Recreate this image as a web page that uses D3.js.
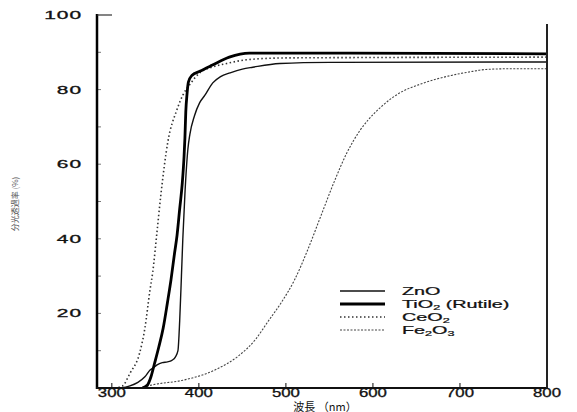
<!DOCTYPE html>
<html><head><meta charset="utf-8">
<script src="https://cdn.jsdelivr.net/npm/d3@7"></script>
<style>html,body{margin:0;padding:0;background:#fff;}svg{display:block;}</style>
</head><body>
<svg id="c" width="577" height="412"></svg>
<script>
// ---- data (wavelength nm, transmittance %) ----
const xTicks = [300, 400, 500, 600, 700, 800];
const yTicks = [20, 40, 60, 80, 100];
const seriesNames = ["ZnO", "TiO2 (Rutile)", "CeO2", "Fe2O3"];
const zno = [[310,0],[320,0.5],[330,1.5],[338,3],[344,4.8],[348,5.5],[352,6.2],[358,6.8],[364,7],[369,7.4],[373,8.3],[376,10],[378,18],[380,30],[381.6,40],[384,52],[387.4,64],[389.7,68],[395,73],[401,76.5],[407,78.5],[416,81.8],[425,83.5],[436,84.5],[450,85.5],[462,86],[493,87],[550,87.3],[800,87.4]];
const tio2 = [[335,0],[341,0.8],[345,3],[349,6.5],[354,11],[359,16],[364,23],[368,29],[372,36],[375,41],[378,48],[381,55],[383,62],[384,67],[385,74],[386.5,79],[388,82],[392,83.8],[401,84.9],[415,86.5],[435,88.7],[458,89.8],[500,89.8],[800,89.6]];
const ceo2 = [[303,0],[312,0.5],[321,4],[332,9.4],[338,16],[343.7,26],[347,31],[352,42],[356,51],[364.4,66],[374.7,74.5],[381.6,78.5],[390,81.5],[401,84.5],[415,86],[432,87],[455,88],[500,88.5],[800,88.7]];
const fe2o3 = [[340,0.5],[350,1],[380,2],[420,5],[445,8.5],[465,13],[480,18],[495,23],[510,29],[525,37],[540,46],[555,55],[570,63],[585,69],[595,72],[610,75.5],[630,79],[655,81.5],[690,83.8],[710,84.7],[730,85.4],[760,85.6],[800,85.6]];

const svg = d3.select("#c");
const x = d3.scaleLinear().domain([283, 800]).range([97, 547]);
const y = d3.scaleLinear().domain([0, 100]).range([388, 15]);
const FONT = "'Liberation Sans', Arial, sans-serif";

svg.append("defs").append("clipPath").attr("id","clip")
  .append("rect").attr("x",97).attr("y",10).attr("width",450).attr("height",378);

// minor y ticks
svg.append("g").selectAll("line").data(d3.range(10,100,10)).join("line")
  .attr("x1",97).attr("x2",101).attr("y1",d=>y(d)).attr("y2",d=>y(d))
  .attr("stroke","#777").attr("stroke-width",1);
// x ticks
svg.append("g").selectAll("line").data(xTicks).join("line")
  .attr("x1",d=>x(d)).attr("x2",d=>x(d)).attr("y1",388).attr("y2",383)
  .attr("stroke","#333").attr("stroke-width",1.2);

// curves
const line = d3.line().x(d=>x(d[0])).y(d=>y(d[1])).curve(d3.curveMonotoneX);
const styles = [
  {data: fe2o3, stroke:"#444", w:1.1, dash:"2,1.5"},
  {data: ceo2, stroke:"#333", w:1.6, dash:"1.5,2.5"},
  {data: zno, stroke:"#111", w:1.4, dash:null},
  {data: tio2, stroke:"#000", w:2.8, dash:null}
];
const g = svg.append("g").attr("clip-path","url(#clip)");
styles.forEach(s=>{
  g.append("path").attr("d", line(s.data)).attr("fill","none")
   .attr("stroke", s.stroke).attr("stroke-width", s.w)
   .attr("stroke-dasharray", s.dash).attr("stroke-linejoin","round");
});

// frame
svg.append("line").attr("x1",97).attr("x2",97).attr("y1",14).attr("y2",389).attr("stroke","#000").attr("stroke-width",2.5);
svg.append("line").attr("x1",96).attr("x2",548).attr("y1",388).attr("y2",388).attr("stroke","#111").attr("stroke-width",2);
svg.append("line").attr("x1",547).attr("x2",547).attr("y1",24).attr("y2",389).attr("stroke","#222").attr("stroke-width",2);
svg.append("line").attr("x1",97).attr("x2",112).attr("y1",15).attr("y2",15).attr("stroke","#333").attr("stroke-width",1.2);

// y labels
svg.append("g").selectAll("g").data(yTicks).join("g")
  .attr("transform", d=>`translate(82,${y(d)+4}) scale(1.9,1)`)
  .append("text").attr("text-anchor","end").attr("font-family",FONT)
  .attr("font-size",11).attr("fill","#111").attr("stroke","#111").attr("stroke-width",0.3)
  .attr("letter-spacing",0.5).text(d=>d);
// x labels
svg.append("g").selectAll("g").data(xTicks).join("g")
  .attr("transform", d=>`translate(${x(d)},396.5) scale(1.4,1)`)
  .append("text").attr("text-anchor","middle").attr("font-family",FONT)
  .attr("font-size",12).attr("fill","#111").attr("stroke","#111").attr("stroke-width",0.3)
  .text(d=>d);

// axis titles
svg.append("text").attr("x",325).attr("y",410.5).attr("text-anchor","middle")
  .attr("font-family","'Noto Sans CJK JP', sans-serif").attr("font-size",11).attr("fill","#111")
  .text("波長 （nm）");
svg.append("text").attr("transform","translate(18,204) rotate(-90)").attr("text-anchor","middle")
  .attr("font-family","'Noto Sans CJK JP', sans-serif").attr("font-size",8).attr("fill","#555")
  .text("分光透過率 (%)");

// legend
const legY = [291, 304, 317, 330];
const legStyles = [styles[2], styles[3], styles[1], styles[0]];
const lg = svg.append("g");
legStyles.forEach((s,i)=>{
  lg.append("line").attr("x1",340).attr("x2",385).attr("y1",legY[i]).attr("y2",legY[i])
    .attr("stroke",s.stroke).attr("stroke-width",s.w).attr("stroke-dasharray",s.dash);
});
const legParts = [
  [["ZnO",0]],
  [["TiO",0],["2",1],[" (Rutile)",0]],
  [["CeO",0],["2",1]],
  [["Fe",0],["2",1],["O",0],["3",1]]
];
legParts.forEach((parts,i)=>{
  const t = lg.append("g").attr("transform",`translate(402,${legY[i]+4}) scale(1.8,1)`)
    .append("text").attr("font-family",FONT).attr("font-size",11).attr("fill","#111")
    .attr("stroke","#111").attr("stroke-width",0.25);
  parts.forEach((p,j)=>{
    const prev = j>0 ? parts[j-1][1] : 0;
    const ts = t.append("tspan").text(p[0])
      .attr("dy", p[1] && !prev ? 2 : (!p[1] && prev ? -2 : 0));
    if(p[1]) ts.attr("font-size",7);
  });
});
</script>
</body></html>
